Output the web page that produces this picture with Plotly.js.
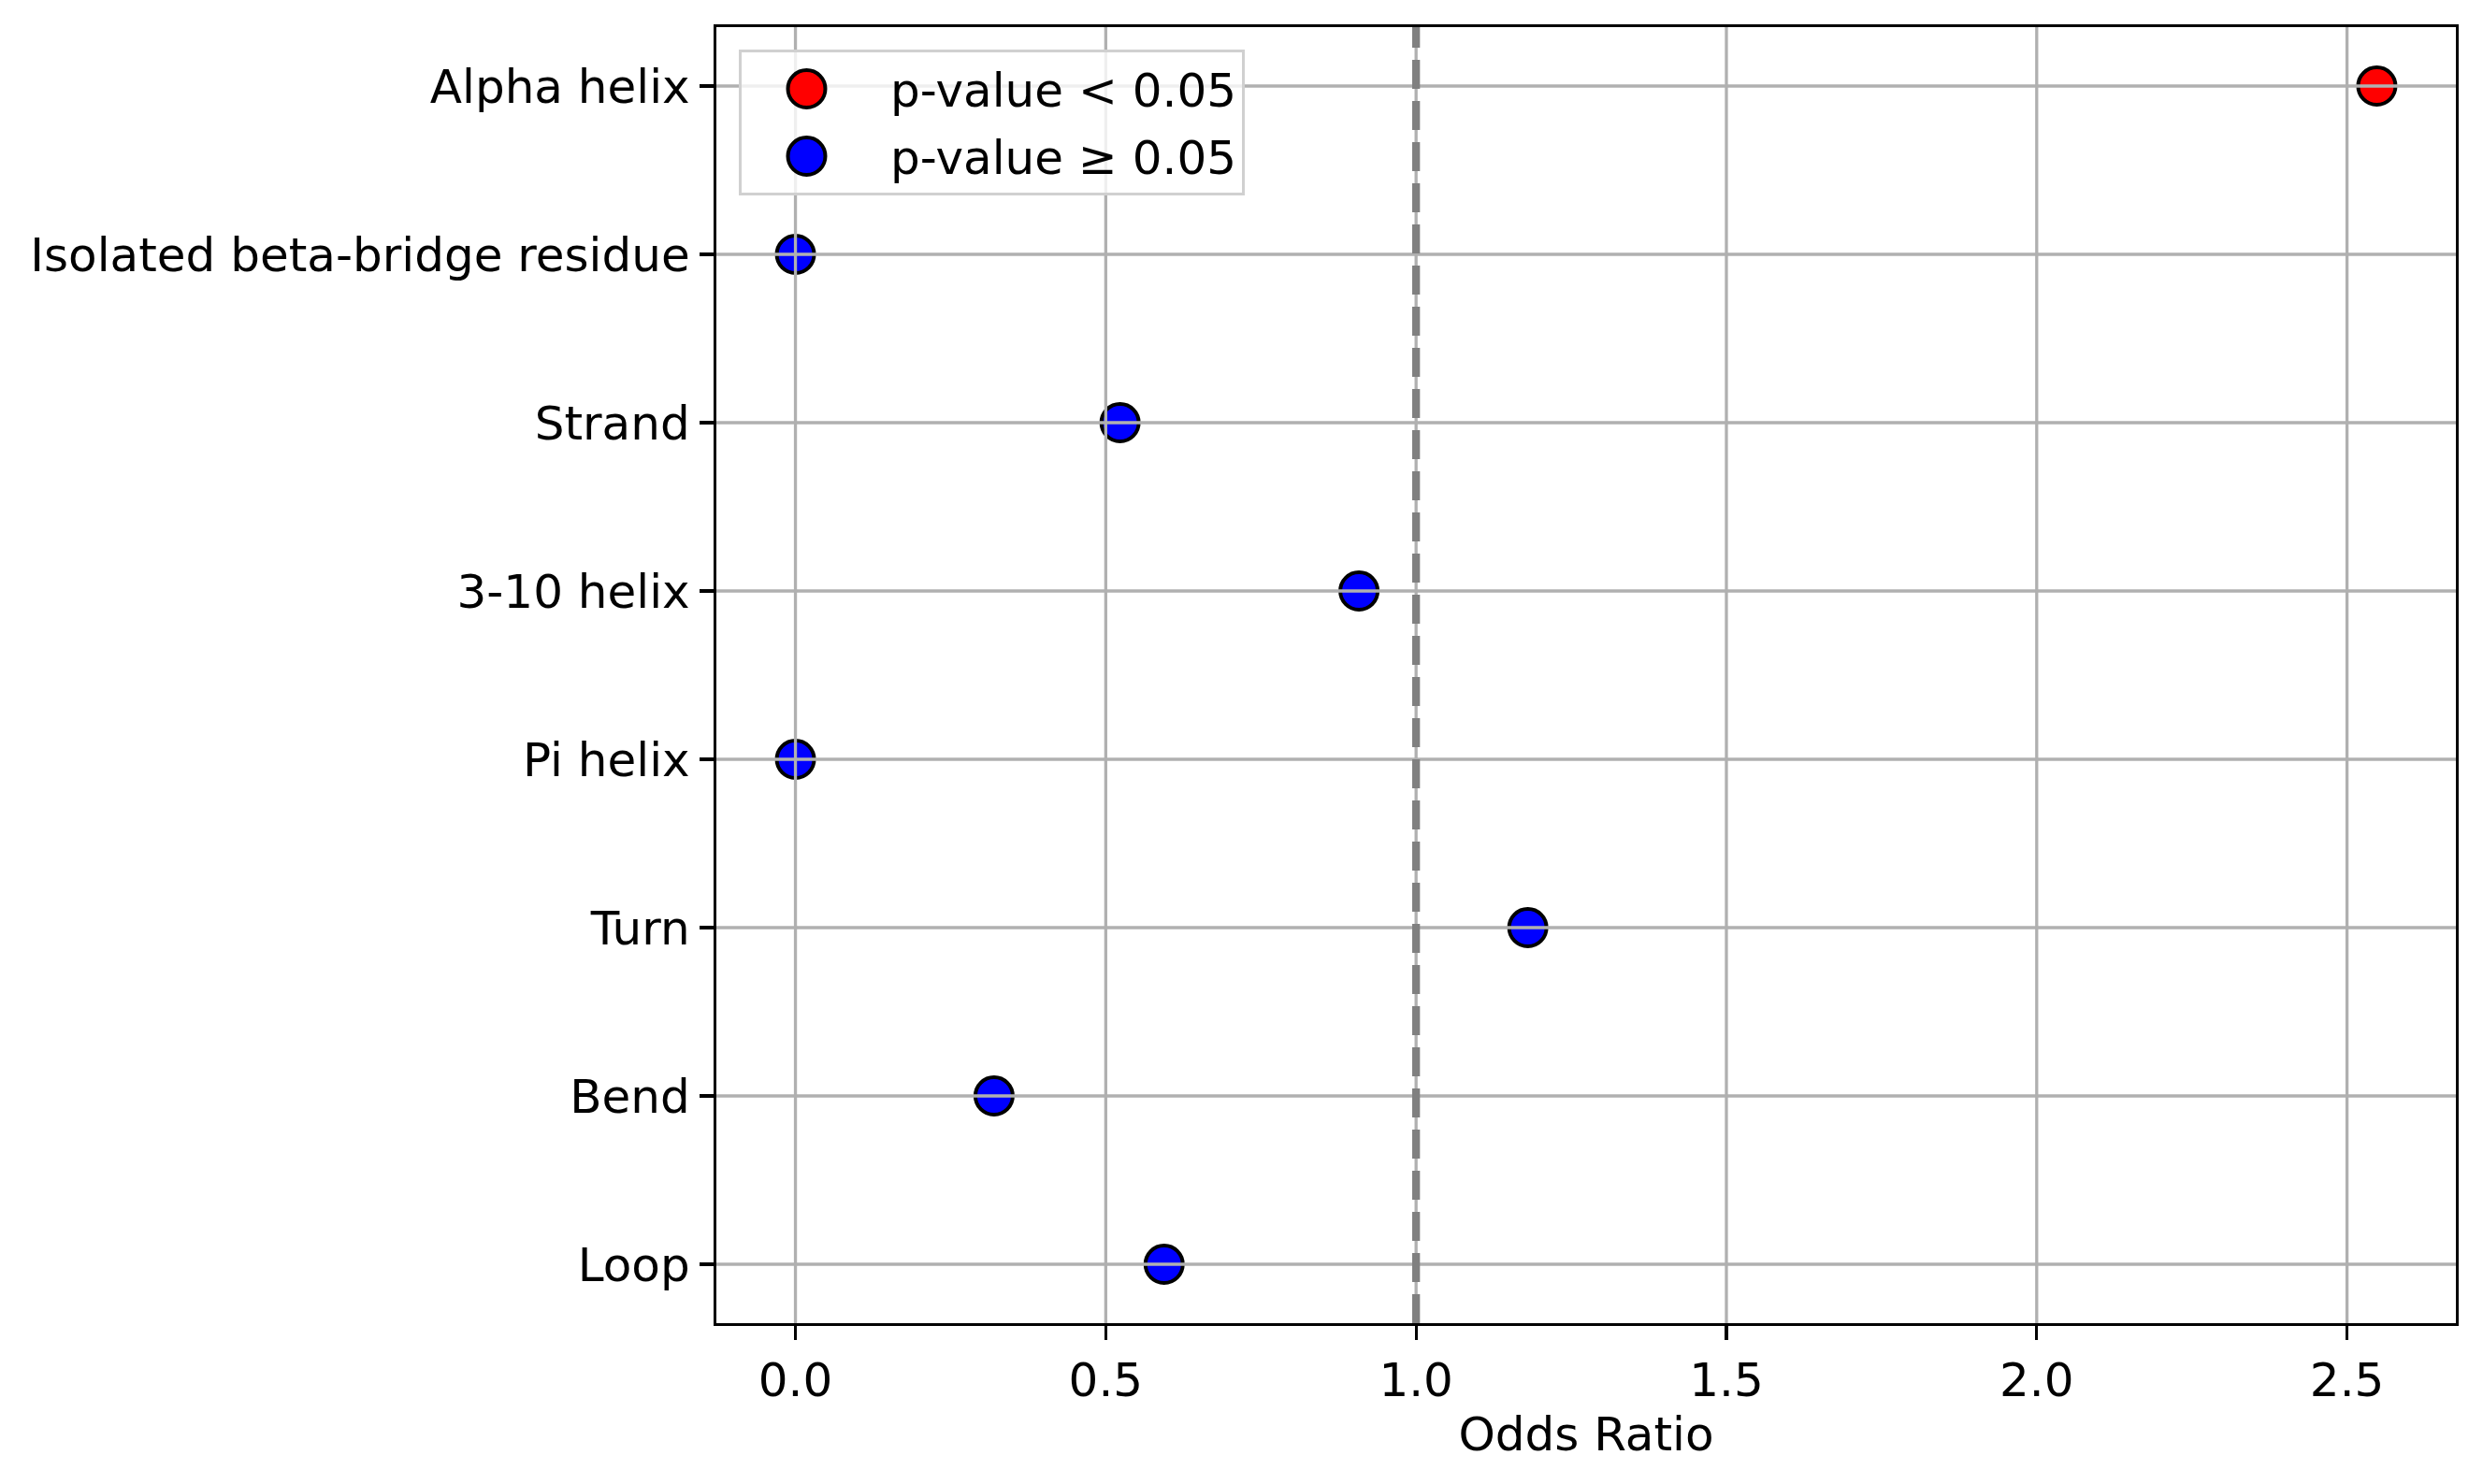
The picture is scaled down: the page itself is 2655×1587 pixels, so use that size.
<!DOCTYPE html>
<html>
<head>
<meta charset="utf-8">
<script src="https://cdn.plot.ly/plotly-3.0.1.min.js"></script>
<style>
  body { margin: 0; background: #fff; }
  #chart { width: 2655px; height: 1587px; }
</style>
</head>
<body>
<div id="chart"></div>
<script>
// secondary structure categories, top to bottom
var categories = ['Alpha helix', 'Isolated beta-bridge residue', 'Strand', '3-10 helix',
                  'Pi helix', 'Turn', 'Bend', 'Loop'];
var oddsRatio = [2.548, 0.0, 0.523, 0.908, 0.0, 1.180, 0.320, 0.594];
var significant = [true, false, false, false, false, false, false, false];
var xTicks = [0, 0.5, 1.0, 1.5, 2.0, 2.5];
var xTickText = ['0.0', '0.5', '1.0', '1.5', '2.0', '2.5'];

var FONT = 'DejaVu Sans, Liberation Sans, sans-serif';
var LW = 3.3;  // 0.8pt at 300 dpi

function pick(arr, flag) {
  return arr.filter(function (v, i) { return significant[i] === flag; });
}

var traces = [
  {
    x: pick(oddsRatio, true), y: pick(categories, true),
    type: 'scatter', mode: 'markers', name: 'p-value < 0.05', legendgroup: 'sig',
    marker: {color: 'red', size: 40, line: {color: 'black', width: 4}}
  },
  {
    x: pick(oddsRatio, false), y: pick(categories, false),
    type: 'scatter', mode: 'markers', name: 'p-value \u2265 0.05', legendgroup: 'ns',
    marker: {color: 'blue', size: 40, line: {color: 'black', width: 4}}
  }
];

// grid drawn on top of the markers, like matplotlib does here
var shapes = [];
categories.forEach(function (c) {
  shapes.push({type: 'line', xref: 'paper', x0: 0, x1: 1, yref: 'y', y0: c, y1: c,
               layer: 'above', line: {color: '#b0b0b0', width: LW}});
});
xTicks.forEach(function (t) {
  shapes.push({type: 'line', xref: 'x', x0: t, x1: t, yref: 'paper', y0: 0, y1: 1,
               layer: 'above', line: {color: '#b0b0b0', width: LW}});
});
// reference line at OR = 1
shapes.push({type: 'line', xref: 'x', x0: 1, x1: 1, yref: 'paper', y0: 0, y1: 1,
             layer: 'above', line: {color: 'gray', width: 8.3, dash: '31px,13px'}});

var layout = {
  width: 2655, height: 1587,
  margin: {l: 766, r: 29, t: 29, b: 172, pad: 0},
  paper_bgcolor: 'white', plot_bgcolor: 'white',
  font: {family: FONT, size: 50, color: 'black'},
  showlegend: true,
  legend: {
    x: 0.0129, y: 0.9827, xanchor: 'left', yanchor: 'top',
    bgcolor: 'rgba(255,255,255,0.8)', bordercolor: '#d0d0d0', borderwidth: 3,
    font: {family: FONT, size: 50, color: 'black'},
    itemwidth: 149, traceorder: 'grouped', tracegroupgap: 4
  },
  xaxis: {
    range: [-0.1274, 2.6754],
    tickmode: 'array', tickvals: xTicks, ticktext: xTickText,
    showgrid: false, zeroline: false, automargin: true,
    showline: true, mirror: true, linecolor: 'black', linewidth: LW,
    ticks: 'outside', ticklen: 15, tickwidth: LW, tickcolor: 'black',
    tickfont: {family: FONT, size: 50},
    title: {text: 'Odds Ratio', font: {family: FONT, size: 50}, standoff: 10}
  },
  yaxis: {
    type: 'category', categoryorder: 'array', categoryarray: categories,
    range: [7.35, -0.35],
    showgrid: false, zeroline: false,
    showline: true, mirror: true, linecolor: 'black', linewidth: LW,
    ticks: 'outside', ticklen: 15, tickwidth: LW, tickcolor: 'black',
    tickfont: {family: FONT, size: 50}
  },
  shapes: shapes
};

Plotly.newPlot('chart', traces, layout, {staticPlot: true}).then(function (gd) {
  // legend symbols are capped at 16px by plotly; blow them up to match the plot markers
  var pts = gd.querySelectorAll('.legend .scatterpts');
  pts.forEach(function (p) {
    var t = p.getAttribute('transform') || '';
    p.setAttribute('transform', t + ' translate(-10,0) scale(2.5)');
    p.style.strokeWidth = '1.6px';
  });
});
</script>
</body>
</html>
